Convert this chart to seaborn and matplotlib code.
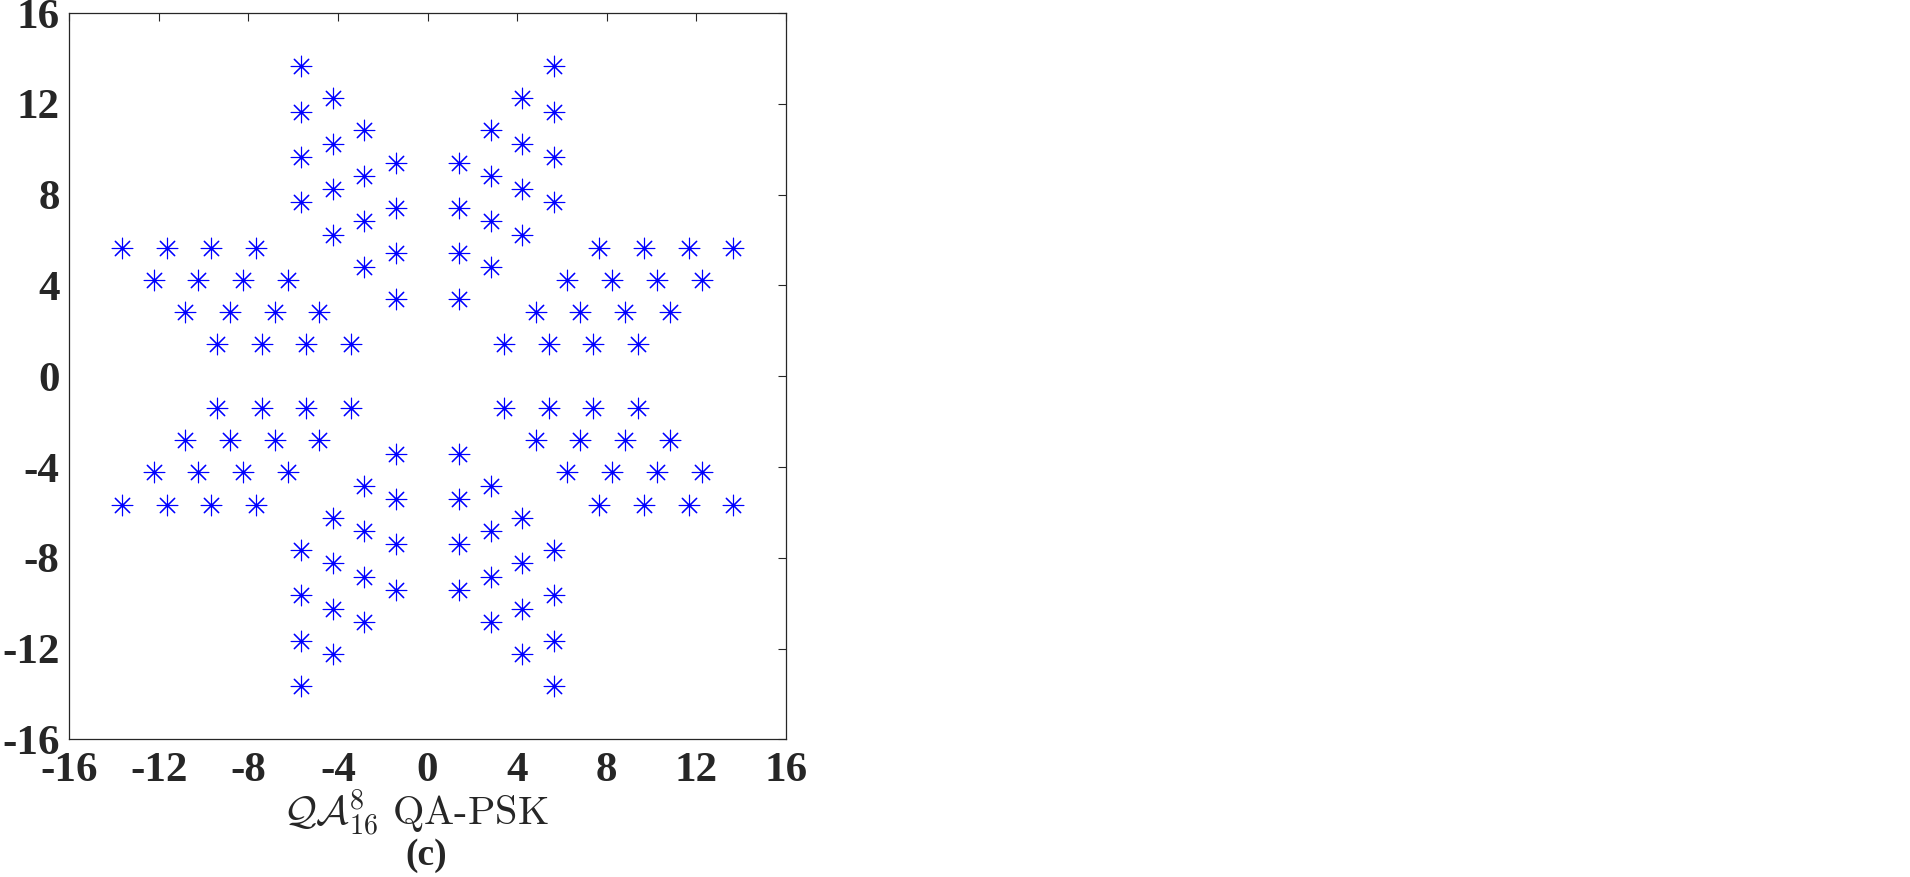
import pandas as pd
import seaborn as sns
import matplotlib.pyplot as plt

# Constellation points (one list pair per quadrant)
q1_x = [1.41, 1.41, 1.41, 1.41, 2.83, 2.83, 2.83, 2.83, 4.24, 4.24, 4.24, 4.24, 5.66, 5.66, 5.66, 5.66,
        3.41, 5.41, 7.41, 9.41, 4.83, 6.83, 8.83, 10.83, 6.24, 8.24, 10.24, 12.24, 7.66, 9.66, 11.66, 13.66]
q1_y = [3.41, 5.41, 7.41, 9.41, 4.83, 6.83, 8.83, 10.83, 6.24, 8.24, 10.24, 12.24, 7.66, 9.66, 11.66, 13.66,
        1.41, 1.41, 1.41, 1.41, 2.83, 2.83, 2.83, 2.83, 4.24, 4.24, 4.24, 4.24, 5.66, 5.66, 5.66, 5.66]

q2_x = [-1.41, -1.41, -1.41, -1.41, -2.83, -2.83, -2.83, -2.83, -4.24, -4.24, -4.24, -4.24, -5.66, -5.66, -5.66, -5.66,
        -3.41, -5.41, -7.41, -9.41, -4.83, -6.83, -8.83, -10.83, -6.24, -8.24, -10.24, -12.24, -7.66, -9.66, -11.66, -13.66]
q2_y = [3.41, 5.41, 7.41, 9.41, 4.83, 6.83, 8.83, 10.83, 6.24, 8.24, 10.24, 12.24, 7.66, 9.66, 11.66, 13.66,
        1.41, 1.41, 1.41, 1.41, 2.83, 2.83, 2.83, 2.83, 4.24, 4.24, 4.24, 4.24, 5.66, 5.66, 5.66, 5.66]

q3_x = [-1.41, -1.41, -1.41, -1.41, -2.83, -2.83, -2.83, -2.83, -4.24, -4.24, -4.24, -4.24, -5.66, -5.66, -5.66, -5.66,
        -3.41, -5.41, -7.41, -9.41, -4.83, -6.83, -8.83, -10.83, -6.24, -8.24, -10.24, -12.24, -7.66, -9.66, -11.66, -13.66]
q3_y = [-3.41, -5.41, -7.41, -9.41, -4.83, -6.83, -8.83, -10.83, -6.24, -8.24, -10.24, -12.24, -7.66, -9.66, -11.66, -13.66,
        -1.41, -1.41, -1.41, -1.41, -2.83, -2.83, -2.83, -2.83, -4.24, -4.24, -4.24, -4.24, -5.66, -5.66, -5.66, -5.66]

q4_x = [1.41, 1.41, 1.41, 1.41, 2.83, 2.83, 2.83, 2.83, 4.24, 4.24, 4.24, 4.24, 5.66, 5.66, 5.66, 5.66,
        3.41, 5.41, 7.41, 9.41, 4.83, 6.83, 8.83, 10.83, 6.24, 8.24, 10.24, 12.24, 7.66, 9.66, 11.66, 13.66]
q4_y = [-3.41, -5.41, -7.41, -9.41, -4.83, -6.83, -8.83, -10.83, -6.24, -8.24, -10.24, -12.24, -7.66, -9.66, -11.66, -13.66,
        -1.41, -1.41, -1.41, -1.41, -2.83, -2.83, -2.83, -2.83, -4.24, -4.24, -4.24, -4.24, -5.66, -5.66, -5.66, -5.66]

ticks = [-16, -12, -8, -4, 0, 4, 8, 12, 16]

df = pd.DataFrame({
    "I": q1_x + q2_x + q3_x + q4_x,
    "Q": q1_y + q2_y + q3_y + q4_y,
})

sns.set_style("white")
plt.rcParams["font.family"] = ["Liberation Serif", "DejaVu Serif"]
plt.rcParams["mathtext.fontset"] = "cm"

fig = plt.figure(figsize=(19.10, 8.77), dpi=100)
ax = fig.add_axes([0.0363, 0.157, 0.3751, 0.828])

sns.scatterplot(data=df, x="I", y="Q", marker=(8, 2, 0), color="blue",
                s=220, linewidth=0.8, ax=ax, legend=False)

ax.set_xlim(-16, 16)
ax.set_ylim(-16, 16)
ax.set_xticks(ticks)
ax.set_yticks(ticks)
ax.set_xticklabels([str(t) for t in ticks], fontsize=31, fontweight="bold", color="#262626")
ax.set_yticklabels([str(t) for t in ticks], fontsize=31, fontweight="bold", color="#262626")
ax.tick_params(direction="in", length=6, width=0.8, color="#262626",
               top=True, right=True)
ax.tick_params(axis="x", pad=9)
ax.tick_params(axis="y", pad=7)
for sp in ax.spines.values():
    sp.set_color("#262626")
    sp.set_linewidth(0.9)

ax.set_xlabel("")
ax.set_ylabel("")
ax.text(0.483, -0.102, r"$\mathcal{QA}_{16}^{8}\ \mathrm{QA\text{-}PSK}$", transform=ax.transAxes,
        ha="center", va="center", fontsize=29)
ax.text(0.498, -0.136, "(c)", transform=ax.transAxes, ha="center", va="top",
        fontsize=27, fontweight="bold")

fig.savefig("out.png", dpi=100)
plt.close(fig)
